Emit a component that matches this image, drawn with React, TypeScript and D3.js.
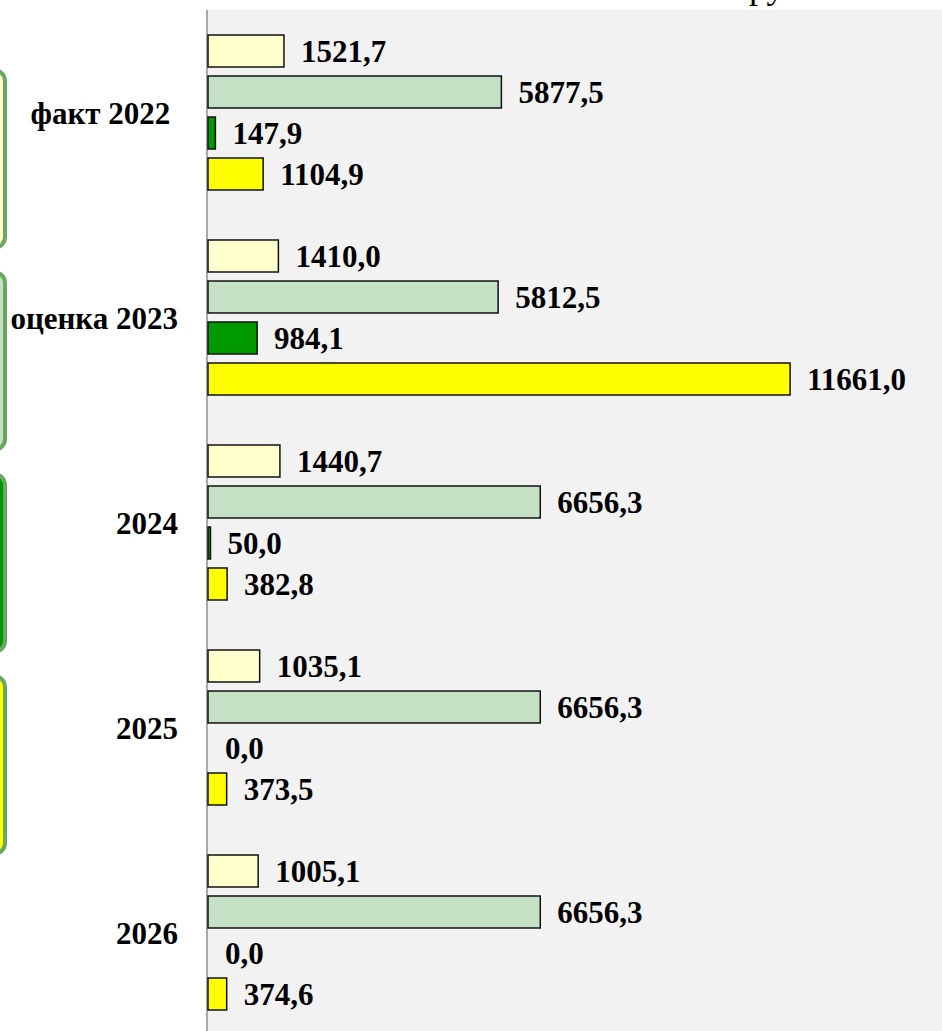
import React from "react";
import * as d3 from "d3";

// categories (rows) and the four series
const categories = ["факт 2022\u00A0", "оценка 2023", "2024", "2025", "2026"];
const seriesNames = ["s1", "s2", "s3", "s4"];
const series1 = [1521.7, 1410.0, 1440.7, 1035.1, 1005.1];
const series2 = [5877.5, 5812.5, 6656.3, 6656.3, 6656.3];
const series3 = [147.9, 984.1, 50.0, 0.0, 0.0];
const series4 = [1104.9, 11661.0, 382.8, 373.5, 374.6];
const seriesColors = ["#ffffcc", "#c4e1c5", "#009900", "#ffff00"];
const unitLabel = "млн. рублей";

const W = 942;
const H = 1031;
const plotLeft = 208;
const plotTop = 10;

const App = () => {
  const allSeries = [series1, series2, series3, series4];

  //group bands, one per category
  const y = d3.scaleBand<string>().domain(categories).range([10, 1035]);

  //bars inside a group
  const yInner = d3
    .scaleBand<string>()
    .domain(seriesNames)
    .range([0, y.bandwidth()])
    .paddingInner(0.22)
    .paddingOuter(0.61);

  const x = d3.scaleLinear().domain([0, 12000]).range([plotLeft, 807]);

  //legend boxes on the left (cut off by the frame)
  const legendY = d3.scaleBand<string>().domain(seriesNames).range([70, 854]).paddingInner(0.119);

  const fmt = (v: number) => d3.format(".1f")(v).replace(".", ",");
  const font = "'Liberation Serif', 'Times New Roman', serif";

  return (
    <svg
      width={W}
      height={H}
      style={{ position: "absolute", left: 0, top: 0, background: "#ffffff" }}
      fontFamily={font}
    >
      <rect x={plotLeft} y={plotTop} width={W - plotLeft} height={H - plotTop} fill="#f2f2f2" />
      <line x1={207} x2={207} y1={plotTop} y2={H} stroke="#8c8c8c" strokeWidth={1.5} />

      {/* unit label, mostly clipped at the top */}
      <text x={671} y={-2} fontSize={36} fill="#000">
        {unitLabel}
      </text>

      {/* legend keys */}
      {seriesNames.map((s, i) => (
        <rect
          key={s}
          x={-200}
          y={legendY(s)}
          width={205}
          height={legendY.bandwidth()}
          rx={11}
          fill={seriesColors[i]}
          stroke="#6aa861"
          strokeWidth={4}
        />
      ))}

      {categories.map((c, ci) => {
        const g0 = y(c) as number;
        return (
          <g key={c}>
            <text
              x={178}
              y={g0 + y.bandwidth() / 2 + 11}
              textAnchor="end"
              fontSize={31}
              fontWeight="bold"
              fill="#000"
            >
              {c}
            </text>
            {seriesNames.map((s, si) => {
              const v = allSeries[si][ci];
              const by = g0 + (yInner(s) as number);
              const bh = yInner.bandwidth();
              const bw = x(v) - x(0);
              return (
                <g key={s}>
                  {v > 0 && (
                    <rect
                      x={x(0)}
                      y={by}
                      width={bw}
                      height={bh}
                      fill={seriesColors[si]}
                      stroke="#111"
                      strokeWidth={1.5}
                    />
                  )}
                  <text
                    x={x(v) + 17}
                    y={by + bh / 2 + 11}
                    fontSize={31}
                    fontWeight="bold"
                    fill="#000"
                  >
                    {fmt(v)}
                  </text>
                </g>
              );
            })}
          </g>
        );
      })}
    </svg>
  );
};

export default App;
